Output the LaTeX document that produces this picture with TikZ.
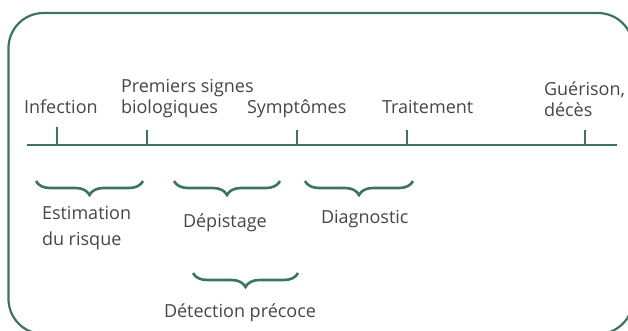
\documentclass[tikz,border=0pt]{standalone}
\usepackage{fontspec}
\setmainfont{Open Sans}
\usetikzlibrary{decorations.pathreplacing}
\definecolor{framegreen}{RGB}{58,117,99}
\definecolor{txtgray}{RGB}{70,70,70}
\tikzset{
  frameline/.style={draw=framegreen, line width=2.2pt},
  axisline/.style={draw=framegreen, line width=2.2pt},
  tickline/.style={draw=framegreen, line width=2.2pt},
  bracedraw/.style={draw=framegreen, line width=2.6pt, decorate,
    decoration={brace, mirror, amplitude=14pt, aspect=0.5}},
  lbl/.style={inner sep=0pt, outer sep=0pt, text=txtgray, anchor=base west,
    align=left, font=\fontsize{18}{20.6}\selectfont}
}
\begin{document}
\begin{tikzpicture}[x=1pt,y=-1pt]
\useasboundingbox (0,0) rectangle (628,330);
\begin{scope}
\clip (0,0) rectangle (628,330);
\draw[frameline, rounded corners=35pt] (8.5,13) rectangle (633,334);
\end{scope}
% timeline
\coordinate (tl) at (27,145);
\coordinate (tr) at (617,145);
\draw[axisline] (tl) -- (tr);
\coordinate (k1) at (57,145);  \coordinate (k1t) at (57,127);
\coordinate (k2) at (147,145); \coordinate (k2t) at (147,130);
\coordinate (k3) at (297,145); \coordinate (k3t) at (297,130);
\coordinate (k4) at (407,145); \coordinate (k4t) at (407,130);
\coordinate (k5) at (585,145); \coordinate (k5t) at (585,130);
\foreach \k in {k1,k2,k3,k4,k5} \draw[tickline] (\k) -- (\k t);
% labels (base = baseline of last line)
\node[lbl] (infection) at (24,113) {Infection};
\node[lbl] (premiers) at (121,113) {Premiers signes\\biologiques};
\node[lbl] (symptomes) at (247,113) {Symptômes};
\node[lbl] (traitement) at (382,113) {Traitement};
\node[lbl] (guerison) at (544,116) {Guérison,\\décès};
% braces
\coordinate (b1l) at (36,181);  \coordinate (b1r) at (143,181);
\coordinate (b2l) at (174,181); \coordinate (b2r) at (280,181);
\coordinate (b3l) at (305,181); \coordinate (b3r) at (413,181);
\coordinate (b4l) at (193,273); \coordinate (b4r) at (298,273);
\draw[bracedraw] (b1l) -- (b1r);
\draw[bracedraw] (b2l) -- (b2r);
\draw[bracedraw] (b3l) -- (b3r);
\draw[bracedraw] (b4l) -- (b4r);
\node[lbl, font=\fontsize{18}{26}\selectfont] (estimation) at (42,245) {Estimation\\du risque};
\node[lbl] (depistage) at (183,227) {Dépistage};
\node[lbl] (diagnostic) at (321,223) {Diagnostic};
\node[lbl] (detection) at (164,317) {Détection précoce};
\end{tikzpicture}
\end{document}
